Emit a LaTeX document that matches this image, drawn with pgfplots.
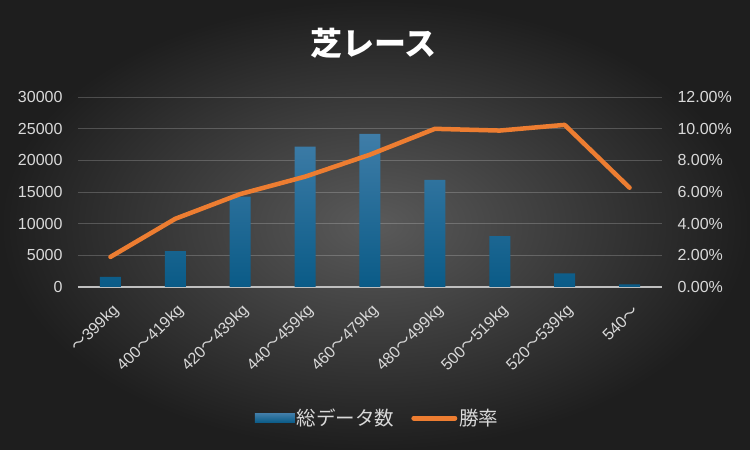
\documentclass[border=0pt]{standalone}
\usepackage{pgfplots}
\usepackage{pgfplotstable}
\pgfplotsset{compat=1.18}
\usepackage{fontspec}
\setmainfont{Liberation Sans}
\newfontfamily\cjk{Noto Sans CJK JP}
\newcommand{\tl}{{\cjk ～}}
\definecolor{bgin}{HTML}{5A5A5A}
\definecolor{bgout}{HTML}{1E1E1E}
\definecolor{bartop}{HTML}{3F7DA8}
\definecolor{barbot}{HTML}{0A5B87}
\definecolor{lineor}{HTML}{ED7D31}
\definecolor{txt}{HTML}{D9D9D9}
\definecolor{axisgray}{HTML}{BFBFBF}
\pgfplotsset{/pgf/number format/assume math mode=true}
\pgfplotstableread{
x n r
0 1590 1.90
1 5650 4.31
2 14260 5.87
3 22170 6.97
4 24190 8.36
5 16900 9.99
6 8030 9.88
7 2170 10.24
8 430 6.27
}\data
\begin{document}
\begin{tikzpicture}
\shade[use as bounding box, inner color=bgin, outer color=bgout] (0,0) rectangle (750pt,450pt);
\begin{axis}[
  at={(78pt,163pt)}, anchor=south west, scale only axis,
  width=584pt, height=190pt,
  xmin=-0.5, xmax=8.5, ymin=0, ymax=30000,
  axis x line*=bottom, axis y line*=left,
  x axis line style={draw=axisgray, line width=1.8pt, -},
  y axis line style={draw=none},
  major tick length=0pt,
  ytick={0,5000,...,30000},
  ymajorgrids, grid style={draw=white, opacity=0.2, line width=0.9pt},
  xtick={0,...,8},
  xticklabels={\tl 399kg, 400\tl 419kg, 420\tl 439kg, 440\tl 459kg, 460\tl 479kg, 480\tl 499kg, 500\tl 519kg, 520\tl 539kg, 540\tl},
  yticklabel style={font=\fontsize{16}{16}\selectfont, text=txt, xshift=-12pt},
  xticklabel style={rotate=45, anchor=east, font=\fontsize{16}{16}\selectfont, text=txt, xshift=-7pt, yshift=-19pt},
  /pgf/number format/1000 sep={},
  scaled y ticks=false,
]
\addplot[ybar, bar width=21pt, bar shift=0pt, draw=none, top color=bartop, bottom color=barbot] table[x=x,y=n]{\data};
\end{axis}
\begin{axis}[
  at={(78pt,163pt)}, anchor=south west, scale only axis,
  width=584pt, height=190pt,
  xmin=-0.5, xmax=8.5, ymin=0, ymax=12,
  axis y line*=right, axis x line=none,
  y axis line style={draw=none},
  major tick length=0pt,
  ytick={0,2,...,12},
  yticklabel={\pgfmathprintnumber[fixed,fixed zerofill,precision=2]{\tick}\%},
  y tick label style={xshift=12pt, anchor=west, font=\fontsize{16}{16}\selectfont, text=txt},
  legend columns=2,
  legend style={at={(0.5130,-0.69)}, anchor=center, draw=none, fill=none, text=txt,
    font=\fontsize{19.5}{19.5}\selectfont,
    /tikz/every even column/.append style={column sep=15pt}},
]
\addlegendimage{legend image code/.code={\fill[draw=none, top color=bartop,bottom color=barbot] (0pt,-4.5pt) rectangle (40pt,4.5pt);}}
\addlegendentry{\cjk 総データ数}
\addplot[lineor, line width=4.5pt, line join=round, line cap=round, mark=none,
  legend image code/.code={\draw[lineor, line width=5pt, line cap=round] (2.5pt,0) -- (43.5pt,0);}] table[x=x,y=r]{\data};
\addlegendentry{\cjk 勝率}
\end{axis}
\node[text=white, font=\fontsize{32}{32}\cjk\bfseries] at (373.5pt,407pt) {芝レース};
\end{tikzpicture}
\end{document}
